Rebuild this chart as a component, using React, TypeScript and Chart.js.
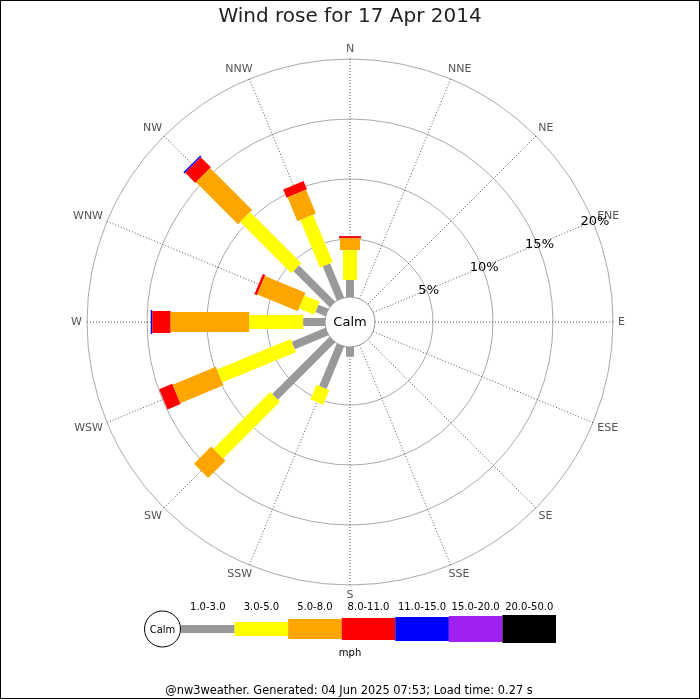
import React, { useEffect, useRef } from "react";
import { Chart, registerables } from "chart.js";

Chart.register(...registerables);

// ---------- data ----------
const TITLE = "Wind rose for 17 Apr 2014";
const FOOTER = "@nw3weather. Generated: 04 Jun 2025 07:53; Load time: 0.27 s";
const DIRECTIONS = ["N", "NNE", "NE", "ENE", "E", "ESE", "SE", "SSE", "S", "SSW", "SW", "WSW", "W", "WNW", "NW", "NNW"];
const SPEED_CLASSES = ["1.0-3.0", "3.0-5.0", "5.0-8.0", "8.0-11.0", "11.0-15.0", "15.0-20.0", "20.0-50.0"];
const SPEED_UNIT = "mph";
const RING_TICKS = [5, 10, 15, 20];
const RING_LABELS = ["5%", "10%", "15%", "20%"];

// percentage of time per direction (N..NNW) for each speed class
const speed1to3 = [1.58, 0, 0, 0, 0, 0, 0, 0, 0.97, 3.98, 6.91, 3.19, 1.98, 1.06, 4.41, 3.22];
const speed3to5 = [2.5, 0, 0, 0, 0, 0, 0, 0, 0, 1.32, 6.69, 6.65, 4.5, 1.38, 6.04, 4.3];
const speed5to8 = [0.97, 0, 0, 0, 0, 0, 0, 0, 0, 0, 2.03, 3.9, 6.55, 3.66, 4.94, 2.15];
const speed8to11 = [0.19, 0, 0, 0, 0, 0, 0, 0, 0, 0, 0, 1.18, 1.53, 0.23, 1.2, 0.75];
const speed11to15 = [0, 0, 0, 0, 0, 0, 0, 0, 0, 0, 0, 0, 0.13, 0, 0.13, 0];
const speed15to20 = [0, 0, 0, 0, 0, 0, 0, 0, 0, 0, 0, 0, 0, 0, 0, 0];
const speed20to50 = [0, 0, 0, 0, 0, 0, 0, 0, 0, 0, 0, 0, 0, 0, 0, 0];
const SERIES = [speed1to3, speed3to5, speed5to8, speed8to11, speed11to15, speed15to20, speed20to50];

// ---------- style ----------
const CLASS_COLORS = ["#999999", "#ffff00", "#ffa500", "#ff0000", "#0000ff", "#a020f0", "#000000"];
const BAR_WIDTHS = [8, 14, 20, 22, 24, 26, 28];
const PX_PER_PCT = 12;
const BASE_PX = 23; // radial offset of 0% from centre
const CALM_R = 25;
const W = 700;
const H = 700;
const CX = 350;
const CY = 322;
const FONT = "DejaVu Sans";

const BASE = BASE_PX / PX_PER_PCT;

function polar(r: number, dirIndex: number) {
  const th = (dirIndex * 22.5 * Math.PI) / 180;
  return { x: r * Math.sin(th), y: r * Math.cos(th) };
}

function buildDatasets() {
  const ds: any[] = [];
  DIRECTIONS.forEach((_, d) => {
    let cum = 0;
    SERIES.forEach((vals, c) => {
      const v = vals[d];
      if (v <= 0) return;
      const r0 = BASE + cum;
      const r1 = BASE + cum + v;
      cum += v;
      ds.push({
        type: "line",
        label: `${DIRECTIONS[d]} ${SPEED_CLASSES[c]}`,
        data: [polar(r0, d), polar(r1, d)],
        borderColor: CLASS_COLORS[c],
        backgroundColor: CLASS_COLORS[c],
        borderWidth: BAR_WIDTHS[c],
        borderCapStyle: "butt",
        pointRadius: 0,
        pointHoverRadius: 0,
        fill: false,
        tension: 0,
        showLine: true,
      });
    });
  });
  return ds;
}

const decorPlugin = {
  id: "windroseDecor",
  beforeDraw(chart: any) {
    const ctx = chart.ctx;
    ctx.save();
    ctx.fillStyle = "#ffffff";
    ctx.fillRect(0, 0, chart.width, chart.height);
    ctx.restore();
  },
  beforeDatasetsDraw(chart: any) {
    const ctx = chart.ctx;
    const xs = chart.scales.x;
    const ys = chart.scales.y;
    const cx = xs.getPixelForValue(0);
    const cy = ys.getPixelForValue(0);
    const ppu = xs.getPixelForValue(1) - cx;
    const outer = (BASE + RING_TICKS[RING_TICKS.length - 1]) * ppu;
    ctx.save();
    // rings
    ctx.strokeStyle = "#aaaaaa";
    ctx.lineWidth = 1;
    RING_TICKS.forEach((t) => {
      ctx.beginPath();
      ctx.arc(cx, cy, (BASE + t) * ppu, 0, Math.PI * 2);
      ctx.stroke();
    });
    // spokes
    ctx.strokeStyle = "#555555";
    ctx.setLineDash([1, 2]);
    DIRECTIONS.forEach((_, d) => {
      const th = (d * 22.5 * Math.PI) / 180;
      const sx = Math.sin(th);
      const sy = -Math.cos(th);
      ctx.beginPath();
      ctx.moveTo(cx + sx * CALM_R, cy + sy * CALM_R);
      ctx.lineTo(cx + sx * outer, cy + sy * outer);
      ctx.stroke();
    });
    ctx.setLineDash([]);
    // direction labels
    ctx.fillStyle = "#555555";
    ctx.font = `11px "${FONT}"`;
    ctx.textAlign = "center";
    ctx.textBaseline = "middle";
    const r0 = outer + 5;
    const hh = 5;
    DIRECTIONS.forEach((name, d) => {
      const th = (d * 22.5 * Math.PI) / 180;
      const sx = Math.sin(th);
      const sy = -Math.cos(th);
      const hw = ctx.measureText(name).width / 2;
      const ox = Math.abs(sx) < 1e-6 ? 0 : Math.sign(sx) * hw * Math.sqrt(Math.abs(sx));
      const oy = Math.abs(sy) < 1e-6 ? 0 : Math.sign(sy) * hh * Math.sqrt(Math.abs(sy));
      ctx.fillText(name, cx + sx * r0 + ox, cy + sy * r0 + oy);
    });
    ctx.restore();
  },
  afterDatasetsDraw(chart: any) {
    const ctx = chart.ctx;
    const xs = chart.scales.x;
    const ys = chart.scales.y;
    const cx = xs.getPixelForValue(0);
    const cy = ys.getPixelForValue(0);
    const ppu = xs.getPixelForValue(1) - cx;
    ctx.save();
    // calm circle
    ctx.beginPath();
    ctx.arc(cx, cy, CALM_R, 0, Math.PI * 2);
    ctx.fillStyle = "#ffffff";
    ctx.fill();
    ctx.strokeStyle = "#999999";
    ctx.lineWidth = 1;
    ctx.stroke();
    ctx.fillStyle = "#000000";
    ctx.font = `13px "${FONT}"`;
    ctx.textAlign = "center";
    ctx.textBaseline = "middle";
    ctx.fillText("Calm", cx, cy + 1);
    // ring labels along ENE
    const th = (67.5 * Math.PI) / 180;
    RING_TICKS.forEach((t, i) => {
      const r = (BASE + t) * ppu;
      ctx.fillText(RING_LABELS[i], cx + Math.sin(th) * r + 2, cy - Math.cos(th) * r);
    });
    // title
    ctx.fillStyle = "#222222";
    ctx.font = `20px "${FONT}"`;
    ctx.fillText(TITLE, W / 2, 17);
    // legend
    const ly = 629;
    const calmX = 162.5;
    const calmR = 18;
    ctx.beginPath();
    ctx.arc(calmX, ly, calmR, 0, Math.PI * 2);
    ctx.fillStyle = "#ffffff";
    ctx.fill();
    ctx.strokeStyle = "#000000";
    ctx.stroke();
    ctx.fillStyle = "#000000";
    ctx.font = `10px "${FONT}"`;
    ctx.fillText("Calm", calmX, ly + 1);
    const x0 = 181;
    const segW = (556 - x0) / SPEED_CLASSES.length;
    SPEED_CLASSES.forEach((lab, i) => {
      const sx = x0 + i * segW;
      ctx.fillStyle = CLASS_COLORS[i];
      ctx.fillRect(sx, ly - BAR_WIDTHS[i] / 2, segW, BAR_WIDTHS[i]);
      ctx.fillStyle = "#000000";
      ctx.fillText(lab, sx + segW / 2, 607);
    });
    ctx.fillText(SPEED_UNIT, 350, 653);
    // footer
    ctx.font = `11.4px "${FONT}"`;
    ctx.fillText(FOOTER, W / 2 - 1, 691);
    // border
    ctx.strokeStyle = "#000000";
    ctx.lineWidth = 1;
    ctx.strokeRect(0.5, 0.5, W - 1, H - 2);
    ctx.restore();
  },
};

export default function App() {
  const ref = useRef<HTMLCanvasElement | null>(null);
  useEffect(() => {
    if (!ref.current) return;
    const chart = new Chart(ref.current, {
      type: "scatter",
      data: { datasets: buildDatasets() },
      options: {
        animation: false,
        responsive: false,
        maintainAspectRatio: false,
        events: [],
        layout: { padding: 0 },
        scales: {
          x: { type: "linear", display: false, min: -CX / PX_PER_PCT, max: (W - CX) / PX_PER_PCT },
          y: { type: "linear", display: false, min: -(H - CY) / PX_PER_PCT, max: CY / PX_PER_PCT },
        },
        plugins: {
          legend: { display: false },
          tooltip: { enabled: false },
          title: { display: false },
        },
      } as any,
      plugins: [decorPlugin],
    });
    return () => chart.destroy();
  }, []);
  return (
    <div style={{ position: "absolute", left: 0, top: 0, width: W, height: H }}>
      <canvas ref={ref} width={W} height={H} style={{ width: W, height: H, display: "block" }} />
    </div>
  );
}
